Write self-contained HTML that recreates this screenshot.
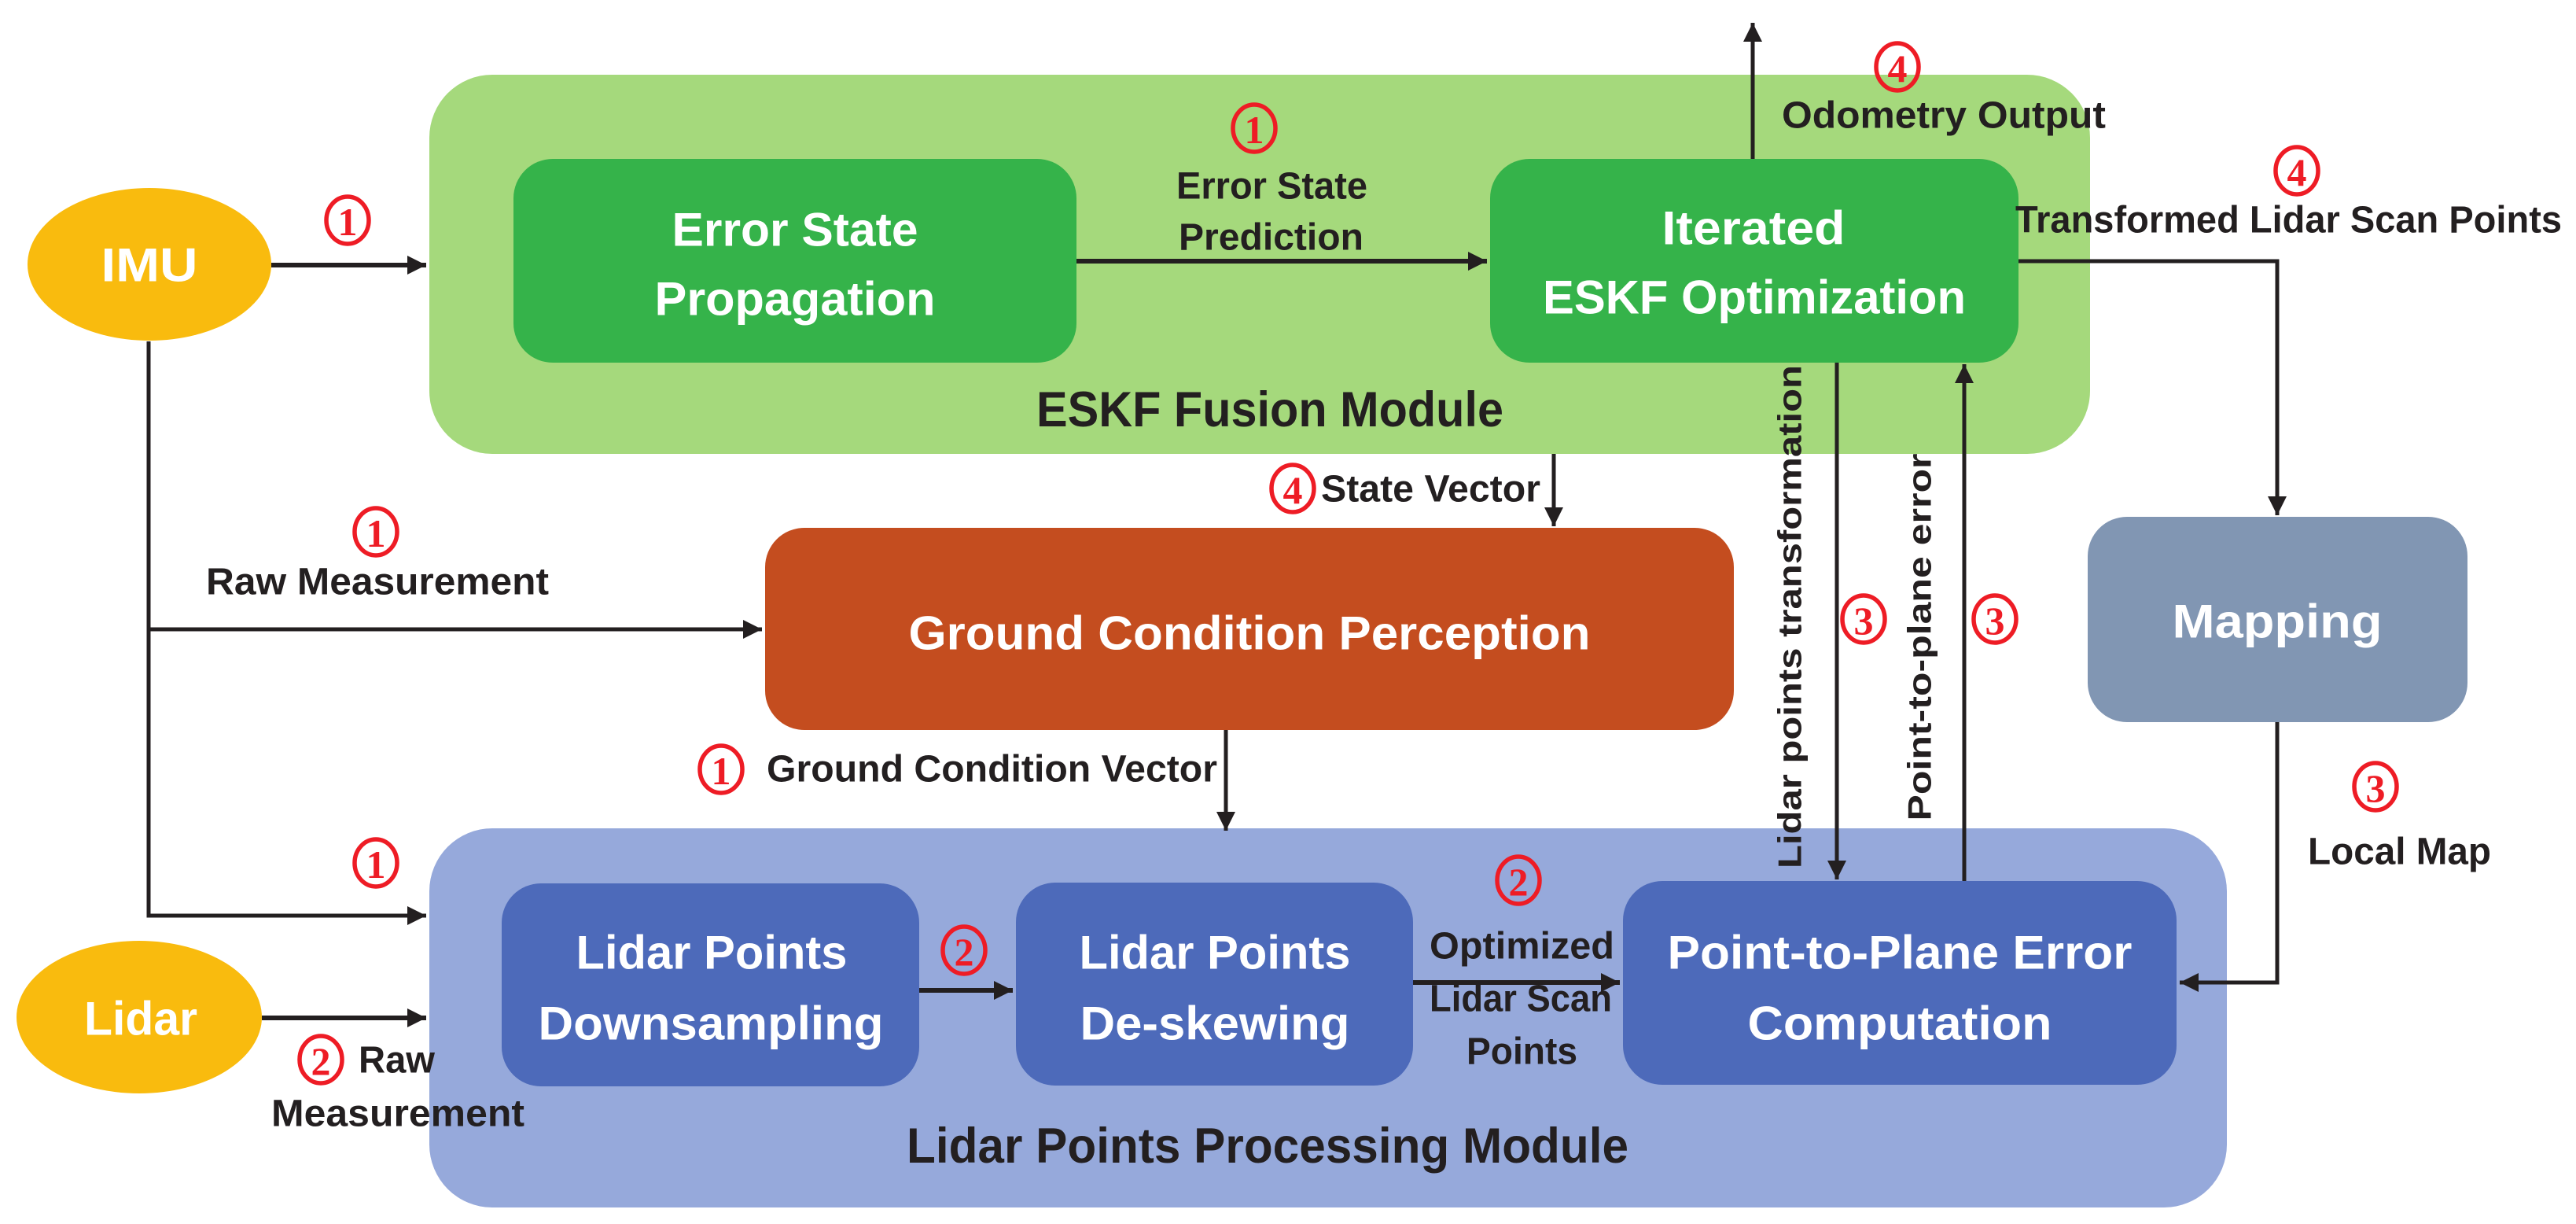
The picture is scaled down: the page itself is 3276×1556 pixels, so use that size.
<!DOCTYPE html>
<html><head><meta charset="utf-8"><style>
html,body{margin:0;padding:0;background:#fff;}
svg{display:block;}
text{font-family:"Liberation Sans",sans-serif;font-weight:bold;}
.w{fill:#fff;font-size:60px;}
.l{fill:#231f20;font-size:48px;}
.t{fill:#231f20;font-size:63px;}
.v{fill:#231f20;font-size:42px;font-family:"DejaVu Sans",sans-serif;}
.c{fill:none;stroke:#ee1c25;stroke-width:5.5;}
.n{fill:#ee1c25;font-size:50px;font-family:"Liberation Serif",serif;font-weight:bold;}
.ln{stroke:#231f20;fill:none;}
</style></head><body>
<svg width="3276" height="1556" viewBox="0 0 3276 1556" xmlns="http://www.w3.org/2000/svg">
<defs>
<marker id="a" markerUnits="userSpaceOnUse" markerWidth="30" markerHeight="30" refX="24" refY="12" orient="auto"><path d="M0,0 L24,12 L0,24 Z" fill="#231f20"/></marker>
</defs>
<rect x="546" y="95" width="2112" height="482" rx="80" fill="#a5d97c"/>
<rect x="546" y="1053" width="2286" height="482" rx="80" fill="#96a9db"/>
<rect x="653" y="202" width="716" height="259" rx="50" fill="#35b34a"/>
<rect x="1895" y="202" width="672" height="259" rx="50" fill="#35b34a"/>
<rect x="973" y="671" width="1232" height="257" rx="50" fill="#c44d1f"/>
<rect x="2655" y="657" width="483" height="261" rx="50" fill="#8196b3"/>
<rect x="638" y="1123" width="531" height="258" rx="50" fill="#4d6aba"/>
<rect x="1292" y="1122" width="505" height="258" rx="50" fill="#4d6aba"/>
<rect x="2064" y="1120" width="704" height="259" rx="50" fill="#4d6aba"/>
<ellipse cx="190" cy="336" rx="155" ry="97" fill="#f9bb0e"/>
<ellipse cx="177" cy="1293" rx="156" ry="97" fill="#f9bb0e"/>

<g class="ln" stroke-width="6">
<path d="M345,337 H542" marker-end="url(#a)"/>
<path d="M1369,332 H1891" marker-end="url(#a)"/>
<path d="M333,1294 H542" marker-end="url(#a)"/>
<path d="M1169,1259 H1288" marker-end="url(#a)"/>
<path d="M1797,1249 H2060" marker-end="url(#a)"/>
<path d="M2567,332 H2896 V655" stroke-width="5" marker-end="url(#a)"/>
<path d="M2896,918 V1249 H2772" stroke-width="5" marker-end="url(#a)"/>
<path d="M189,434 V1164 H542" stroke-width="5" marker-end="url(#a)"/>
<path d="M189,800 H969" stroke-width="5" marker-end="url(#a)"/>
</g>
<g class="ln" stroke-width="5">
<path d="M2229,202 V29" marker-end="url(#a)"/>
<path d="M1976,577 V669" marker-end="url(#a)"/>
<path d="M1559,928 V1056" marker-end="url(#a)"/>
<path d="M2336,461 V1118" marker-end="url(#a)"/>
<path d="M2498,1120 V463" marker-end="url(#a)"/>
</g>

<g class="w" text-anchor="middle" dominant-baseline="central">
<text x="190" y="337" textLength="123" lengthAdjust="spacingAndGlyphs">IMU</text>
<text x="179" y="1295" textLength="144" lengthAdjust="spacingAndGlyphs">Lidar</text>
<text x="1011" y="292" textLength="313" lengthAdjust="spacingAndGlyphs">Error State</text>
<text x="1011" y="380" textLength="357" lengthAdjust="spacingAndGlyphs">Propagation</text>
<text x="2230" y="290" textLength="233" lengthAdjust="spacingAndGlyphs">Iterated</text>
<text x="2231" y="378" textLength="538" lengthAdjust="spacingAndGlyphs">ESKF Optimization</text>
<text x="1589" y="805" textLength="867" lengthAdjust="spacingAndGlyphs">Ground Condition Perception</text>
<text x="2896" y="790" textLength="267" lengthAdjust="spacingAndGlyphs">Mapping</text>
<text x="905" y="1211" textLength="345" lengthAdjust="spacingAndGlyphs">Lidar Points</text>
<text x="904" y="1301" textLength="439" lengthAdjust="spacingAndGlyphs">Downsampling</text>
<text x="1545" y="1211" textLength="345" lengthAdjust="spacingAndGlyphs">Lidar Points</text>
<text x="1545" y="1301" textLength="343" lengthAdjust="spacingAndGlyphs">De-skewing</text>
<text x="2416" y="1211" textLength="591" lengthAdjust="spacingAndGlyphs">Point-to-Plane Error</text>
<text x="2416" y="1301" textLength="387" lengthAdjust="spacingAndGlyphs">Computation</text>
</g>

<g class="t" dominant-baseline="central">
<text x="1318" y="521" textLength="594" lengthAdjust="spacingAndGlyphs">ESKF Fusion Module</text>
<text x="1153" y="1457" textLength="918" lengthAdjust="spacingAndGlyphs">Lidar Points Processing Module</text>
</g>

<g class="l" dominant-baseline="central">
<text x="1496" y="237" textLength="243" lengthAdjust="spacingAndGlyphs">Error State</text>
<text x="1499" y="302" textLength="235" lengthAdjust="spacingAndGlyphs">Prediction</text>
<text x="2266" y="147" textLength="412" lengthAdjust="spacingAndGlyphs">Odometry Output</text>
<text x="2563" y="280" textLength="695" lengthAdjust="spacingAndGlyphs">Transformed Lidar Scan Points</text>
<text x="1680" y="622" textLength="279" lengthAdjust="spacingAndGlyphs">State Vector</text>
<text x="262" y="740" textLength="436" lengthAdjust="spacingAndGlyphs">Raw Measurement</text>
<text x="975" y="978" textLength="573" lengthAdjust="spacingAndGlyphs">Ground Condition Vector</text>
<text x="456" y="1348" textLength="97" lengthAdjust="spacingAndGlyphs">Raw</text>
<text x="345" y="1416" textLength="322" lengthAdjust="spacingAndGlyphs">Measurement</text>
<text x="1818" y="1203" textLength="235" lengthAdjust="spacingAndGlyphs">Optimized</text>
<text x="1818" y="1270" textLength="232" lengthAdjust="spacingAndGlyphs">Lidar Scan</text>
<text x="1865" y="1337" textLength="141" lengthAdjust="spacingAndGlyphs">Points</text>
<text x="2935" y="1083" textLength="233" lengthAdjust="spacingAndGlyphs">Local Map</text>
</g>
<g class="v" dominant-baseline="central" text-anchor="middle">
<text transform="translate(2276,784) rotate(-90)" textLength="640" lengthAdjust="spacingAndGlyphs">Lidar points transformation</text>
<text transform="translate(2441,810) rotate(-90)" textLength="467" lengthAdjust="spacingAndGlyphs">Point-to-plane error</text>
</g>

<g text-anchor="middle" dominant-baseline="central">
<ellipse class="c" cx="442" cy="280" rx="27" ry="30"/><text class="n" x="442" y="282">1</text>
<ellipse class="c" cx="1595" cy="163" rx="27" ry="30"/><text class="n" x="1595" y="165">1</text>
<ellipse class="c" cx="2413" cy="85" rx="27" ry="30"/><text class="n" x="2413" y="87">4</text>
<ellipse class="c" cx="2921" cy="217" rx="27" ry="30"/><text class="n" x="2921" y="219">4</text>
<ellipse class="c" cx="1644" cy="621" rx="27" ry="30"/><text class="n" x="1644" y="623">4</text>
<ellipse class="c" cx="478" cy="676" rx="27" ry="30"/><text class="n" x="478" y="678">1</text>
<ellipse class="c" cx="917" cy="978" rx="27" ry="30"/><text class="n" x="917" y="980">1</text>
<ellipse class="c" cx="478" cy="1097" rx="27" ry="30"/><text class="n" x="478" y="1099">1</text>
<ellipse class="c" cx="408" cy="1347" rx="27" ry="30"/><text class="n" x="408" y="1349">2</text>
<ellipse class="c" cx="1226" cy="1208" rx="27" ry="30"/><text class="n" x="1226" y="1210">2</text>
<ellipse class="c" cx="1931" cy="1119" rx="27" ry="30"/><text class="n" x="1931" y="1121">2</text>
<ellipse class="c" cx="2370" cy="787" rx="27" ry="30"/><text class="n" x="2370" y="789">3</text>
<ellipse class="c" cx="2537" cy="787" rx="27" ry="30"/><text class="n" x="2537" y="789">3</text>
<ellipse class="c" cx="3021" cy="1000" rx="27" ry="30"/><text class="n" x="3021" y="1002">3</text>
</g>
</svg>
</body></html>
